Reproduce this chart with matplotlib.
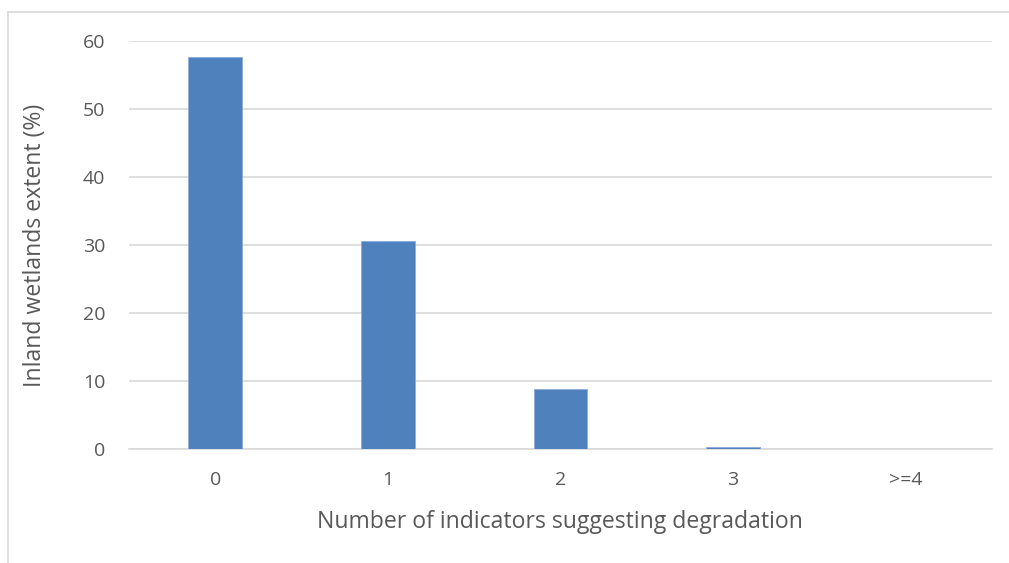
import matplotlib
matplotlib.use("Agg")
import matplotlib.pyplot as plt
from matplotlib.lines import Line2D

categories = ["0", "1", "2", "3", ">=4"]
extent_pct = [57.7, 30.6, 8.8, 0.3, 0.0]
y_ticks = [0, 10, 20, 30, 40, 50, 60]

plt.rcParams["font.family"] = ["Open Sans", "DejaVu Sans"]
text_color = "#595959"

fig = plt.figure(figsize=(10.09, 5.63), dpi=100)
ax = fig.add_axes([0.1278, 0.2025, 0.855, 0.7245])

x = range(len(categories))
ax.bar(x, extent_pct, width=0.31, color="#4f81bd", edgecolor="#8eaadb",
       linewidth=0.6, zorder=3)

ax.set_xlim(-0.5, len(categories) - 0.5)
ax.set_ylim(0, 60)
ax.set_yticks(y_ticks)
ax.set_xticks(list(x))
ax.set_xticklabels(categories)
ax.yaxis.grid(True, color="#d9d9d9", linewidth=1.2, zorder=0)
ax.set_axisbelow(True)

for side in ["top", "right", "left"]:
    ax.spines[side].set_visible(False)
ax.spines["bottom"].set_color("#d9d9d9")
ax.spines["bottom"].set_linewidth(1.2)

ax.tick_params(axis="both", length=0, labelsize=14, colors=text_color)
ax.tick_params(axis="y", pad=17)
ax.tick_params(axis="x", pad=16)

ax.set_xlabel("Number of indicators suggesting degradation", fontsize=16.6,
              color=text_color, labelpad=15)
ax.set_ylabel("Inland wetlands extent (%)", fontsize=16.6,
              color=text_color, labelpad=26)

# light outer frame along the top and left edges
fig.add_artist(Line2D([8 / 1009, 1.0], [1 - 12 / 563, 1 - 12 / 563],
                      transform=fig.transFigure, color="#d9d9d9", linewidth=1.2))
fig.add_artist(Line2D([8 / 1009, 8 / 1009], [0.0, 1 - 12 / 563],
                      transform=fig.transFigure, color="#d9d9d9", linewidth=1.2))

fig.savefig("out.png", dpi=100)
